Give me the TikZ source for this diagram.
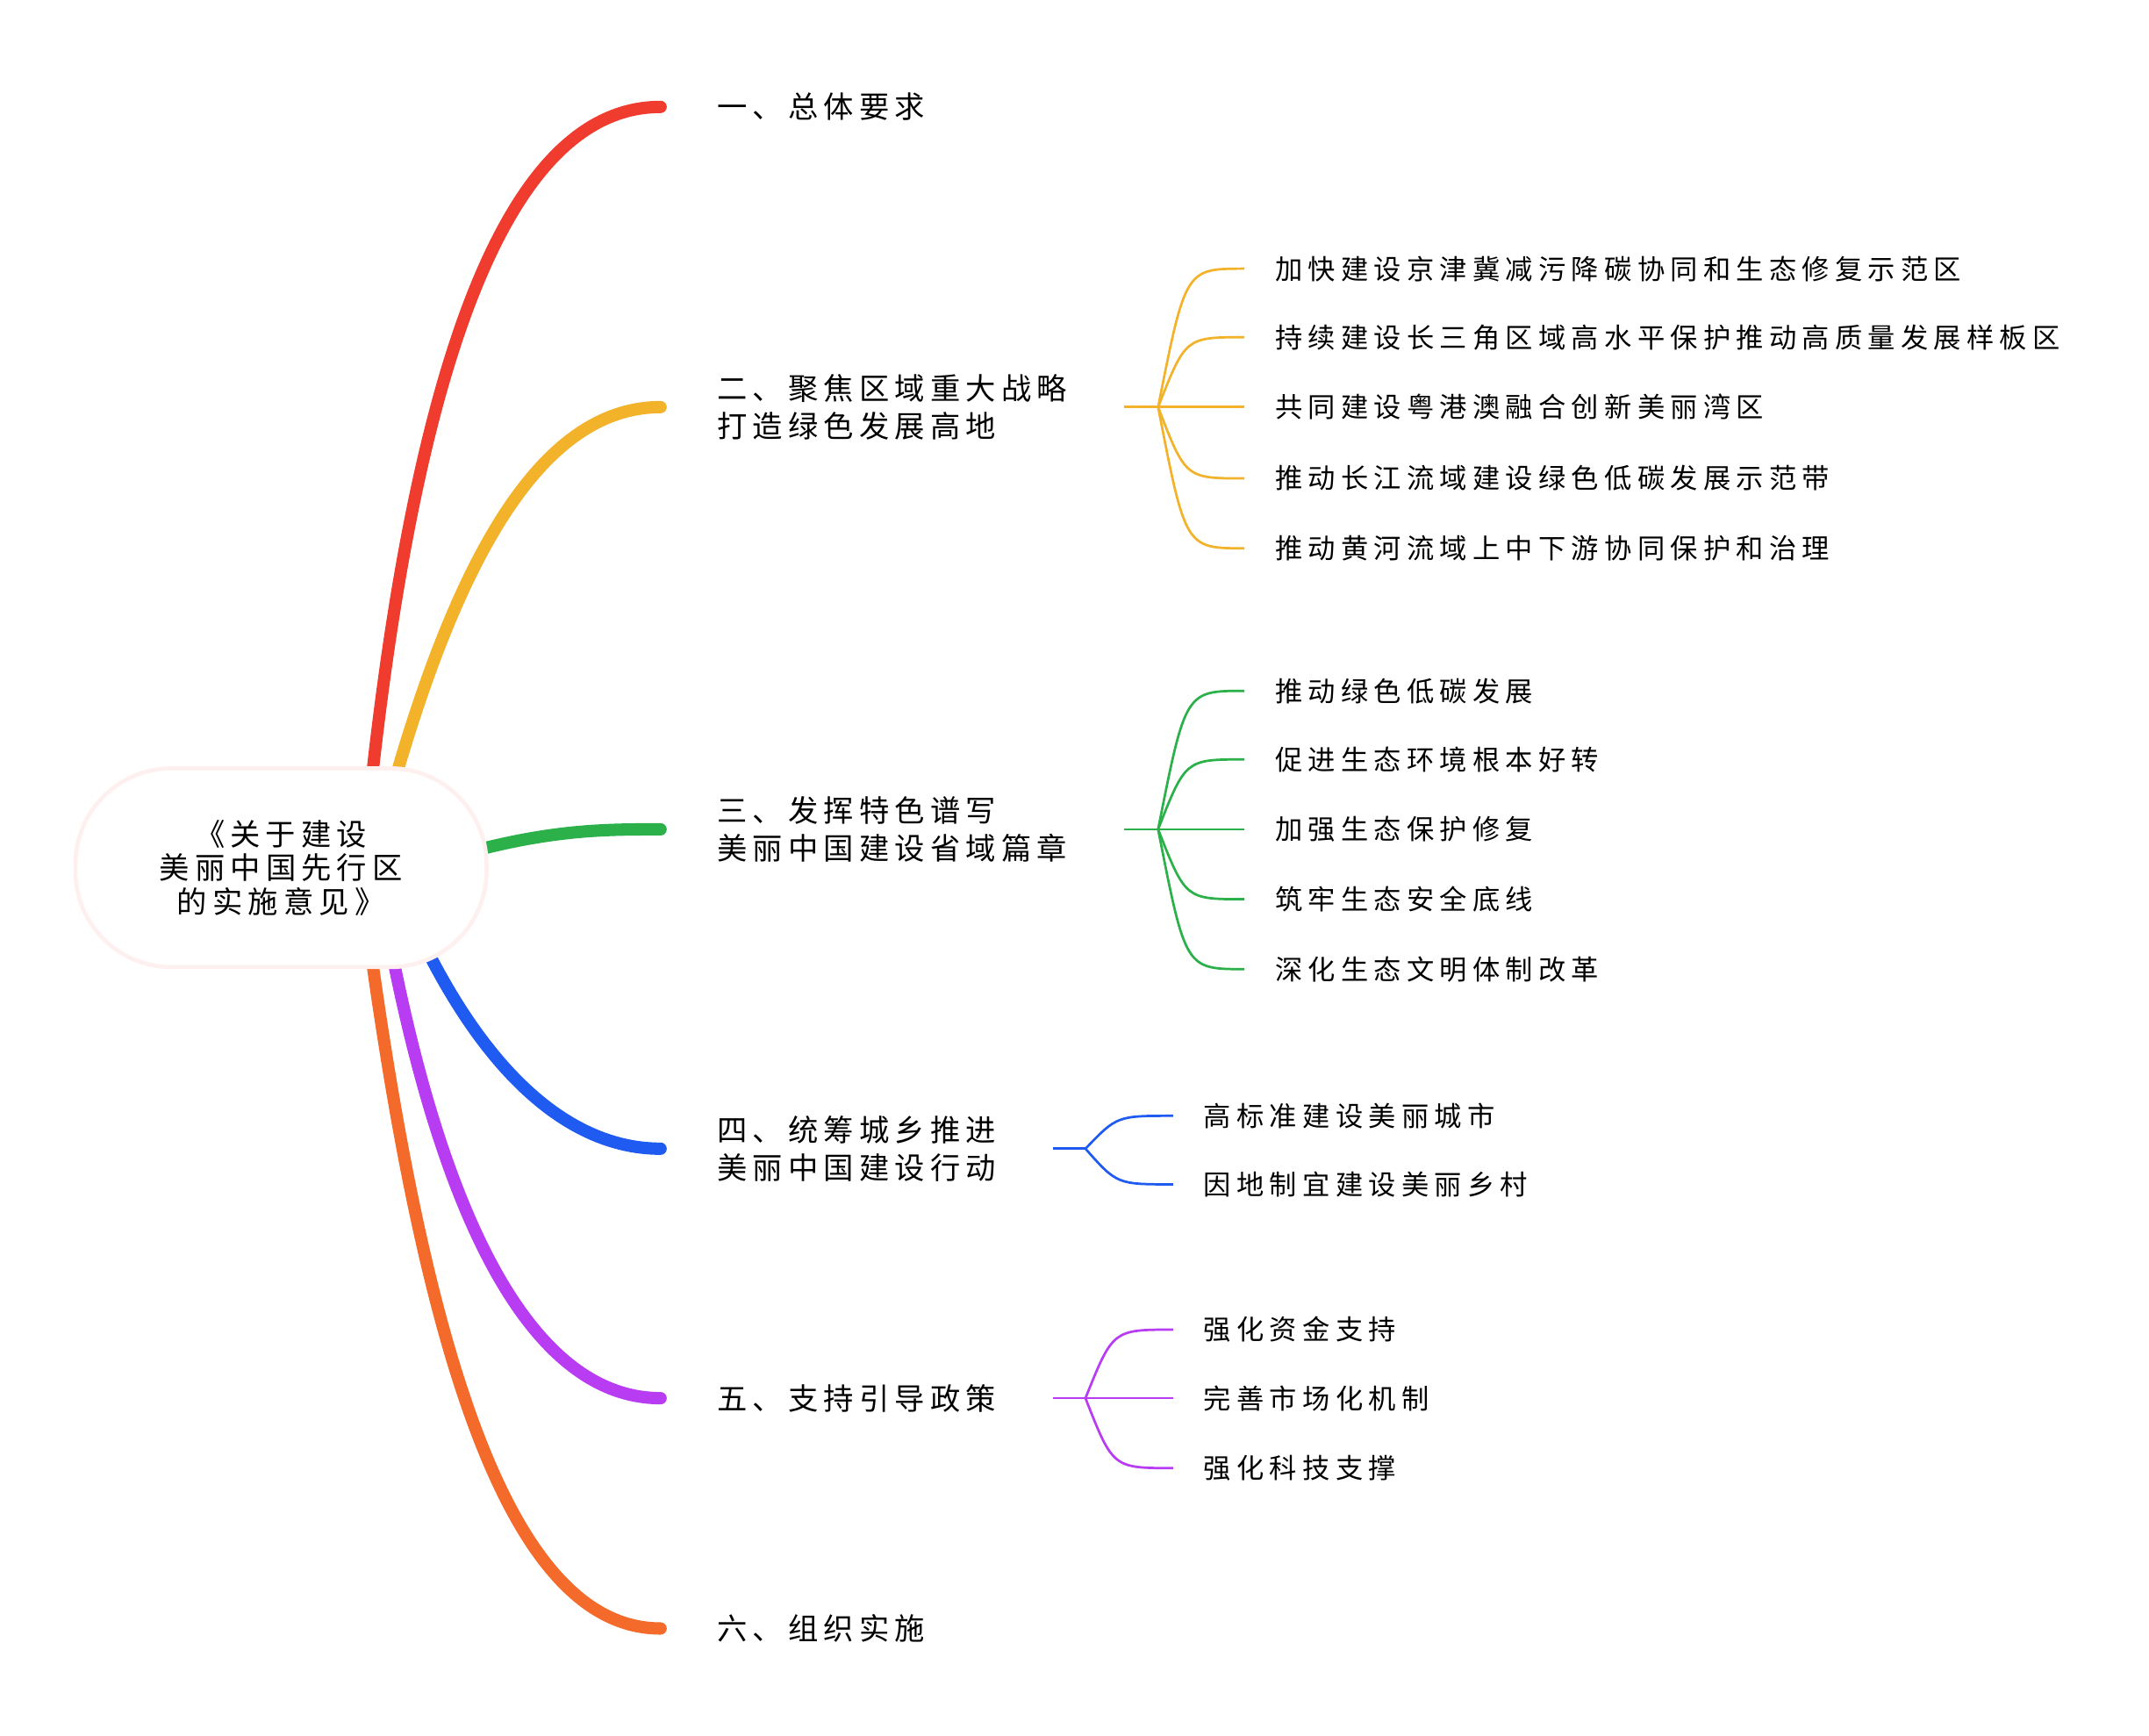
\documentclass[tikz,border=0pt]{standalone}
\usepackage{fontspec}
\newfontfamily\cjk[LetterSpace=18]{Noto Sans CJK SC}
\newfontfamily\cjkleaf[LetterSpace=20]{Noto Sans CJK SC}
\usetikzlibrary{positioning, calc}
\definecolor{cred}{HTML}{F03C2E}
\definecolor{cyel}{HTML}{F2B22A}
\definecolor{cgrn}{HTML}{2BB04A}
\definecolor{cblu}{HTML}{1F5BF0}
\definecolor{cpur}{HTML}{B83CF2}
\definecolor{corg}{HTML}{F46A2A}
\tikzset{branch/.style = {line width=0.18cm, line cap=round}}
\tikzset{twig/.style = {line width=0.035cm}}
\tikzset{topic/.style = {anchor=west, inner sep=0pt, align=left,
  font=\cjk\fontsize{12.5pt}{15.5pt}\selectfont}}
\tikzset{leaf/.style = {anchor=west, inner sep=0pt,
  font=\cjkleaf\fontsize{11.4pt}{14pt}\selectfont}}
\begin{document}
\begin{tikzpicture}[x=0.02cm, y=-0.02cm]
\useasboundingbox (0,0) rectangle (1568,1266);
  % main branches
  \coordinate (e1) at (482,78);
  \coordinate (e2) at (482,297);
  \coordinate (e3) at (482,605);
  \coordinate (e4) at (482,838);
  \coordinate (e5) at (482,1020);
  \coordinate (e6) at (482,1188);
  \draw [branch, cred] (270,580) .. controls (300,300) and (360,78) .. (e1);
  \draw [branch, cyel] (285,580) .. controls (330,420) and (390,297) .. (e2);
  \draw [branch, cgrn] (330,625) .. controls (400,605) and (440,605) .. (e3);
  \draw [branch, cblu] (310,690) .. controls (360,790) and (420,838) .. (e4);
  \draw [branch, cpur] (285,690) .. controls (330,920) and (400,1020) .. (e5);
  \draw [branch, corg] (270,690) .. controls (310,980) and (370,1188) .. (e6);

  % root
  \node (root) [draw=red!6, line width=0.06cm, fill=white, rounded corners=1.4cm,
    minimum width=6cm, minimum height=2.9cm, align=center,
    font=\cjk\fontsize{12.5pt}{14pt}\selectfont] at (205,633)
    {《关于建设\\美丽中国先行区\\的实施意见》};

  % topics
  \node (t1) [topic] at (523,78) {一、总体要求};
  \node (t2) [topic] at (523,297) {二、聚焦区域重大战略\\打造绿色发展高地};
  \node (t3) [topic] at (523,605) {三、发挥特色谱写\\美丽中国建设省域篇章};
  \node (t4) [topic] at (523,838) {四、统筹城乡推进\\美丽中国建设行动};
  \node (t5) [topic] at (523,1020) {五、支持引导政策};
  \node (t6) [topic] at (523,1188) {六、组织实施};

  % twigs
  \coordinate (h2) at (845,297);
  \draw [twig, cyel] (820,297) -- (h2);
  \foreach \y/\txt [count=\i] in {196/加快建设京津冀减污降碳协同和生态修复示范区,
    246/持续建设长三角区域高水平保护推动高质量发展样板区,
    297/共同建设粤港澳融合创新美丽湾区,
    349/推动长江流域建设绿色低碳发展示范带,
    400/推动黄河流域上中下游协同保护和治理}{
    \draw [twig, cyel] (h2) .. controls (865,\y) .. (908,\y);
    \node (l2\i) [leaf] at (930,\y) {\txt};
  }
  \coordinate (h3) at (845,605);
  \draw [twig, cgrn] (820,605) -- (h3);
  \foreach \y/\txt [count=\i] in {504/推动绿色低碳发展, 554/促进生态环境根本好转,
    605/加强生态保护修复, 656/筑牢生态安全底线, 707/深化生态文明体制改革}{
    \draw [twig, cgrn] (h3) .. controls (865,\y) .. (908,\y);
    \node (l3\i) [leaf] at (930,\y) {\txt};
  }
  \coordinate (h4) at (792,838);
  \draw [twig, cblu] (768,838) -- (h4);
  \foreach \y/\txt [count=\i] in {814/高标准建设美丽城市, 864/因地制宜建设美丽乡村}{
    \draw [twig, cblu] (h4) .. controls (815,\y) .. (856,\y);
    \node (l4\i) [leaf] at (878,\y) {\txt};
  }
  \coordinate (h5) at (792,1020);
  \draw [twig, cpur] (768,1020) -- (h5);
  \foreach \y/\txt [count=\i] in {970/强化资金支持, 1020/完善市场化机制, 1071/强化科技支撑}{
    \draw [twig, cpur] (h5) .. controls (812,\y) .. (856,\y);
    \node (l5\i) [leaf] at (878,\y) {\txt};
  }
\end{tikzpicture}
\end{document}
